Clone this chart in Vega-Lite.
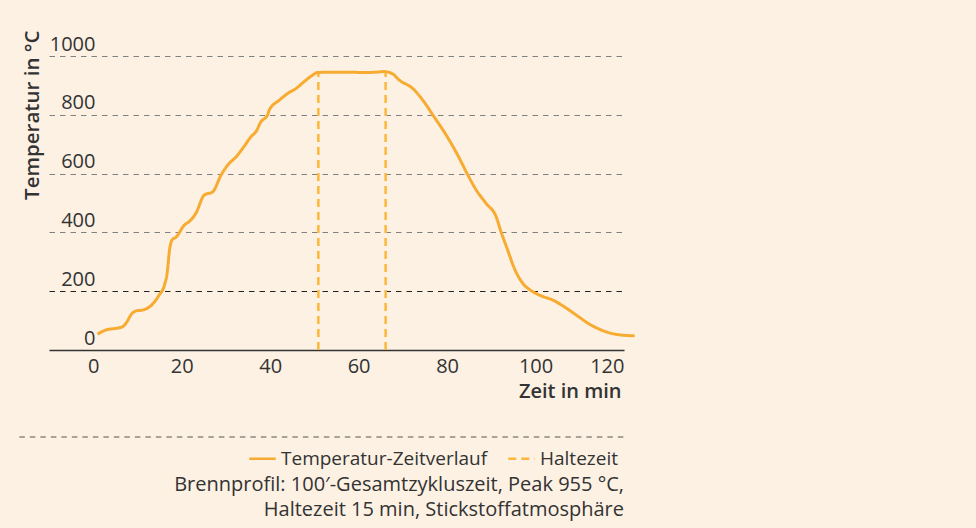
{
  "$schema": "https://vega.github.io/schema/vega-lite/v6.json",
  "autosize": "none",
  "padding": {"left": 49, "top": 56, "right": 352, "bottom": 178},
  "width": 575,
  "height": 294,
  "background": "#FCF1E3",
  "config": {
    "view": {"stroke": null},
    "font": "Open Sans",
    "axis": {"labelFont": "Open Sans", "titleFont": "Open Sans", "labelColor": "#333333", "titleColor": "#333333"}
  },
  "title": {
    "text": ["Brennprofil: 100′-Gesamtzykluszeit, Peak 955 °C,", "Haltezeit 15 min, Stickstoffatmosphäre"],
    "orient": "bottom",
    "anchor": "end",
    "frame": "group",
    "align": "right",
    "font": "Open Sans",
    "fontSize": 20,
    "fontWeight": "normal",
    "color": "#333333",
    "lineHeight": 25,
    "offset": 6,
    "dx": 0
  },
  "datasets": {
    "curve": [
      {"t": 0.97, "T": 54, "series": "Temperatur-Zeitverlauf"},
      {"t": 2.5, "T": 66, "series": "Temperatur-Zeitverlauf"},
      {"t": 6.6, "T": 79, "series": "Temperatur-Zeitverlauf"},
      {"t": 7.4, "T": 91, "series": "Temperatur-Zeitverlauf"},
      {"t": 8.8, "T": 125, "series": "Temperatur-Zeitverlauf"},
      {"t": 9.7, "T": 133, "series": "Temperatur-Zeitverlauf"},
      {"t": 11.2, "T": 136, "series": "Temperatur-Zeitverlauf"},
      {"t": 13.4, "T": 156, "series": "Temperatur-Zeitverlauf"},
      {"t": 14.9, "T": 187, "series": "Temperatur-Zeitverlauf"},
      {"t": 16.1, "T": 221, "series": "Temperatur-Zeitverlauf"},
      {"t": 16.8, "T": 272, "series": "Temperatur-Zeitverlauf"},
      {"t": 17.2, "T": 334, "series": "Temperatur-Zeitverlauf"},
      {"t": 17.8, "T": 374, "series": "Temperatur-Zeitverlauf"},
      {"t": 18.8, "T": 385, "series": "Temperatur-Zeitverlauf"},
      {"t": 20.6, "T": 425, "series": "Temperatur-Zeitverlauf"},
      {"t": 21.7, "T": 437, "series": "Temperatur-Zeitverlauf"},
      {"t": 23.2, "T": 465, "series": "Temperatur-Zeitverlauf"},
      {"t": 25.1, "T": 527, "series": "Temperatur-Zeitverlauf"},
      {"t": 27.0, "T": 538, "series": "Temperatur-Zeitverlauf"},
      {"t": 28.9, "T": 595, "series": "Temperatur-Zeitverlauf"},
      {"t": 30.4, "T": 629, "series": "Temperatur-Zeitverlauf"},
      {"t": 32.3, "T": 657, "series": "Temperatur-Zeitverlauf"},
      {"t": 33.8, "T": 686, "series": "Temperatur-Zeitverlauf"},
      {"t": 35.7, "T": 726, "series": "Temperatur-Zeitverlauf"},
      {"t": 36.8, "T": 743, "series": "Temperatur-Zeitverlauf"},
      {"t": 37.9, "T": 776, "series": "Temperatur-Zeitverlauf"},
      {"t": 39.4, "T": 799, "series": "Temperatur-Zeitverlauf"},
      {"t": 39.8, "T": 816, "series": "Temperatur-Zeitverlauf"},
      {"t": 42.1, "T": 850, "series": "Temperatur-Zeitverlauf"},
      {"t": 44.0, "T": 873, "series": "Temperatur-Zeitverlauf"},
      {"t": 45.9, "T": 890, "series": "Temperatur-Zeitverlauf"},
      {"t": 47.7, "T": 913, "series": "Temperatur-Zeitverlauf"},
      {"t": 49.6, "T": 935, "series": "Temperatur-Zeitverlauf"},
      {"t": 50.7, "T": 944, "series": "Temperatur-Zeitverlauf"},
      {"t": 55.7, "T": 945, "series": "Temperatur-Zeitverlauf"},
      {"t": 61.7, "T": 944, "series": "Temperatur-Zeitverlauf"},
      {"t": 64.0, "T": 945, "series": "Temperatur-Zeitverlauf"},
      {"t": 65.8, "T": 947, "series": "Temperatur-Zeitverlauf"},
      {"t": 67.7, "T": 939, "series": "Temperatur-Zeitverlauf"},
      {"t": 69.2, "T": 918, "series": "Temperatur-Zeitverlauf"},
      {"t": 72.2, "T": 890, "series": "Temperatur-Zeitverlauf"},
      {"t": 74.5, "T": 850, "series": "Temperatur-Zeitverlauf"},
      {"t": 76.8, "T": 799, "series": "Temperatur-Zeitverlauf"},
      {"t": 79.8, "T": 731, "series": "Temperatur-Zeitverlauf"},
      {"t": 82.4, "T": 663, "series": "Temperatur-Zeitverlauf"},
      {"t": 84.7, "T": 595, "series": "Temperatur-Zeitverlauf"},
      {"t": 86.6, "T": 544, "series": "Temperatur-Zeitverlauf"},
      {"t": 88.8, "T": 499, "series": "Temperatur-Zeitverlauf"},
      {"t": 91.1, "T": 453, "series": "Temperatur-Zeitverlauf"},
      {"t": 92.2, "T": 402, "series": "Temperatur-Zeitverlauf"},
      {"t": 93.7, "T": 340, "series": "Temperatur-Zeitverlauf"},
      {"t": 95.2, "T": 278, "series": "Temperatur-Zeitverlauf"},
      {"t": 97.1, "T": 227, "series": "Temperatur-Zeitverlauf"},
      {"t": 99.0, "T": 202, "series": "Temperatur-Zeitverlauf"},
      {"t": 101.3, "T": 184, "series": "Temperatur-Zeitverlauf"},
      {"t": 103.9, "T": 170, "series": "Temperatur-Zeitverlauf"},
      {"t": 106.2, "T": 150, "series": "Temperatur-Zeitverlauf"},
      {"t": 109.2, "T": 119, "series": "Temperatur-Zeitverlauf"},
      {"t": 112.2, "T": 88, "series": "Temperatur-Zeitverlauf"},
      {"t": 115.2, "T": 66, "series": "Temperatur-Zeitverlauf"},
      {"t": 118.3, "T": 53, "series": "Temperatur-Zeitverlauf"},
      {"t": 122.4, "T": 48, "series": "Temperatur-Zeitverlauf"}
    ],
    "hold": [
      {"t": 50.9, "T0": 0, "T1": 944, "series": "Haltezeit"},
      {"t": 66.1, "T0": 0, "T1": 947, "series": "Haltezeit"}
    ],
    "separator": [
      {"from": -16.7, "to": 120, "level": -296}
    ]
  },
  "layer": [
    {
      "data": {"name": "separator"},
      "mark": {"type": "rule", "strokeDash": [5.5, 5], "color": "#555555", "strokeWidth": 1.1},
      "encoding": {
        "x": {"field": "from", "type": "quantitative"},
        "x2": {"field": "to"},
        "y": {"field": "level", "type": "quantitative"}
      }
    },
    {
      "data": {"name": "hold"},
      "mark": {"type": "rule", "strokeWidth": 2.5},
      "encoding": {
        "x": {"field": "t", "type": "quantitative"},
        "y": {"field": "T0", "type": "quantitative"},
        "y2": {"field": "T1"},
        "color": {"field": "series", "type": "nominal"},
        "strokeDash": {"field": "series", "type": "nominal"}
      }
    },
    {
      "data": {"name": "curve"},
      "mark": {"type": "line", "strokeWidth": 3, "interpolate": "monotone", "clip": false},
      "encoding": {
        "x": {
          "field": "t", "type": "quantitative",
          "scale": {"domain": [-10, 120], "nice": false, "zero": false},
          "axis": {
            "values": [0, 20, 40, 60, 80, 100, 120],
            "grid": false, "ticks": false,
            "domainColor": "#333333", "domainWidth": 1.6,
            "labelFontSize": 20, "labelPadding": 6, "labelFlush": true,
            "title": "Zeit in min", "titleFontSize": 20, "titleFontWeight": 600,
            "titleAnchor": "end", "titleAlign": "right", "titleBaseline": "middle",
            "titleX": 572, "titleY": 41
          }
        },
        "y": {
          "field": "T", "type": "quantitative",
          "scale": {"domain": [0, 1000], "nice": false},
          "axis": {
            "values": [0, 200, 400, 600, 800, 1000], "format": "d",
            "domain": false, "ticks": false, "grid": true,
            "gridDash": [5.5, 5], "gridWidth": 1.2,
            "gridColor": {"condition": [{"test": "datum.value === 0", "value": "transparent"}, {"test": "datum.value === 200", "value": "#222222"}], "value": "#808080"},
            "labelFontSize": 20, "labelAlign": "right", "labelBaseline": "alphabetic",
            "labelPadding": -46, "labelOffset": -6,
            "title": "Temperatur in °C", "titleFontSize": 20.5, "titleFontWeight": 600,
            "titleAnchor": "end", "titleAlign": "right", "titleBaseline": "middle", "titleAngle": -90,
            "titleX": -17, "titleY": -26
          }
        },
        "color": {
          "field": "series", "type": "nominal",
          "scale": {"domain": ["Temperatur-Zeitverlauf", "Haltezeit"], "range": ["#F7AB30", "#FBB83C"]},
          "legend": {
            "title": null, "orient": "none", "legendX": 199, "legendY": 388,
            "direction": "horizontal", "padding": 0,
            "symbolType": "stroke", "symbolSize": 700, "symbolStrokeWidth": 2.5,
            "labelFont": "Open Sans", "labelFontSize": 19, "labelColor": "#333333",
            "labelOffset": 4, "labelLimit": 0, "columnPadding": 15
          }
        },
        "strokeDash": {
          "field": "series", "type": "nominal",
          "scale": {"domain": ["Temperatur-Zeitverlauf", "Haltezeit"], "range": [[1, 0], [8, 5]]}
        }
      }
    }
  ]
}
